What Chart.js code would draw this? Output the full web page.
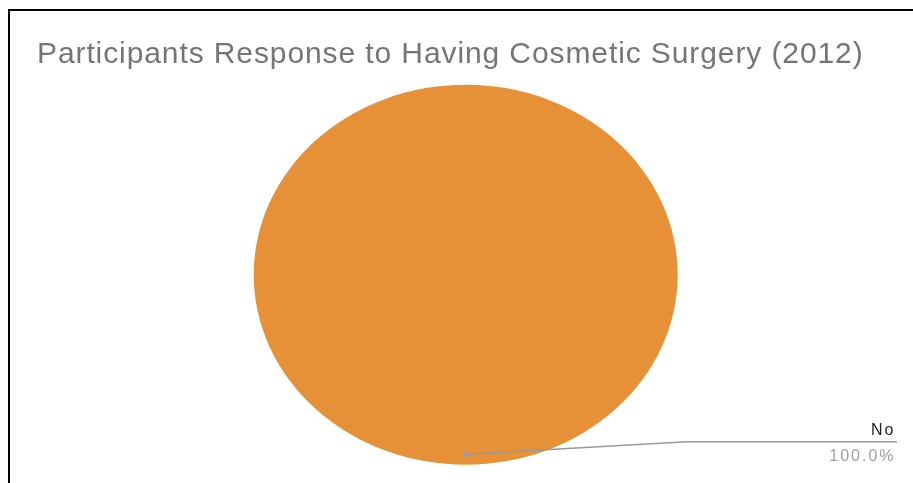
<!DOCTYPE html>
<html>
<head>
<meta charset="utf-8">
<script src="https://cdn.jsdelivr.net/npm/chart.js@4/dist/chart.umd.min.js"></script>
<style>
  html, body { margin: 0; padding: 0; background: #fff; }
  #wrap { position: relative; width: 913px; height: 483px; overflow: hidden; }
  #frame { position: absolute; left: 8px; top: 9px; width: 920px; height: 500px;
           border-left: 2px solid #000; border-top: 2px solid #000; pointer-events: none; }
  canvas { position: absolute; left: 0; top: 0; }
</style>
</head>
<body>
<div id="wrap">
  <canvas id="c" width="913" height="483"></canvas>
  <div id="frame"></div>
</div>
<script>
const chartTitle = 'Participants Response to Having Cosmetic Surgery (2012)';
const categories = ['No'];
const shares = [100];
const sliceColors = ['#E69138'];

const spacingPlugin = {
  id: 'titleSpacing',
  beforeDraw(chart) { chart.ctx.letterSpacing = '0.9px'; },
  beforeDatasetsDraw(chart) { chart.ctx.letterSpacing = '0px'; }
};

const ellipsePlugin = {
  id: 'ellipse',
  beforeDatasetsDraw(chart) {
    const arc = chart.getDatasetMeta(0).data[0];
    const ctx = chart.ctx;
    ctx.save();
    ctx.translate(arc.x, arc.y);
    ctx.scale(212 / 190, 1);
    ctx.translate(-arc.x, -arc.y);
  },
  afterDatasetsDraw(chart) {
    chart.ctx.restore();
  }
};

const labelPlugin = {
  id: 'leaderLabels',
  afterDraw(chart) {
    const ctx = chart.ctx;
    const meta = chart.getDatasetMeta(0);
    const total = shares.reduce((a, b) => a + b, 0);
    meta.data.forEach((arc, i) => {
      const r = arc.outerRadius;
      const dx = arc.x;
      const dy = arc.y + r * 0.945;
      const bendX = dx + 221;
      const bendY = dy - 12.6;
      const endX = chart.width - 16;
      ctx.save();
      ctx.strokeStyle = '#999999';
      ctx.lineWidth = 1.5;
      ctx.beginPath();
      ctx.moveTo(dx, dy);
      ctx.lineTo(bendX, bendY);
      ctx.lineTo(endX, bendY);
      ctx.stroke();
      ctx.fillStyle = '#9e9e9e';
      ctx.beginPath();
      ctx.arc(dx, dy, 2.6, 0, Math.PI * 2);
      ctx.fill();
      ctx.textAlign = 'right';
      ctx.textBaseline = 'alphabetic';
      ctx.font = '16px "Liberation Sans", Arial, sans-serif';
      ctx.letterSpacing = '2px';
      ctx.fillStyle = '#222222';
      ctx.fillText(categories[i], endX - 1.5, bendY - 6.7);
      ctx.fillStyle = '#a0a0a0';
      ctx.fillText((shares[i] / total * 100).toFixed(1) + '%', endX - 1.5, bendY + 19);
      ctx.restore();
    });
  }
};

new Chart(document.getElementById('c'), {
  type: 'pie',
  data: {
    labels: categories,
    datasets: [{
      data: shares,
      backgroundColor: sliceColors,
      borderWidth: 0
    }]
  },
  options: {
    responsive: false,
    animation: false,
    layout: { padding: { left: 37, right: 18.6, top: 0, bottom: 18.3 } },
    plugins: {
      legend: { display: false },
      tooltip: { enabled: false },
      title: {
        display: true,
        text: chartTitle,
        align: 'start',
        color: '#757575',
        font: { family: '"Liberation Sans", Arial, sans-serif', size: 30, weight: 'normal', lineHeight: 1.2 },
        padding: { top: 36.9, bottom: 11.8 }
      }
    }
  },
  plugins: [spacingPlugin, ellipsePlugin, labelPlugin]
});
</script>
</body>
</html>
